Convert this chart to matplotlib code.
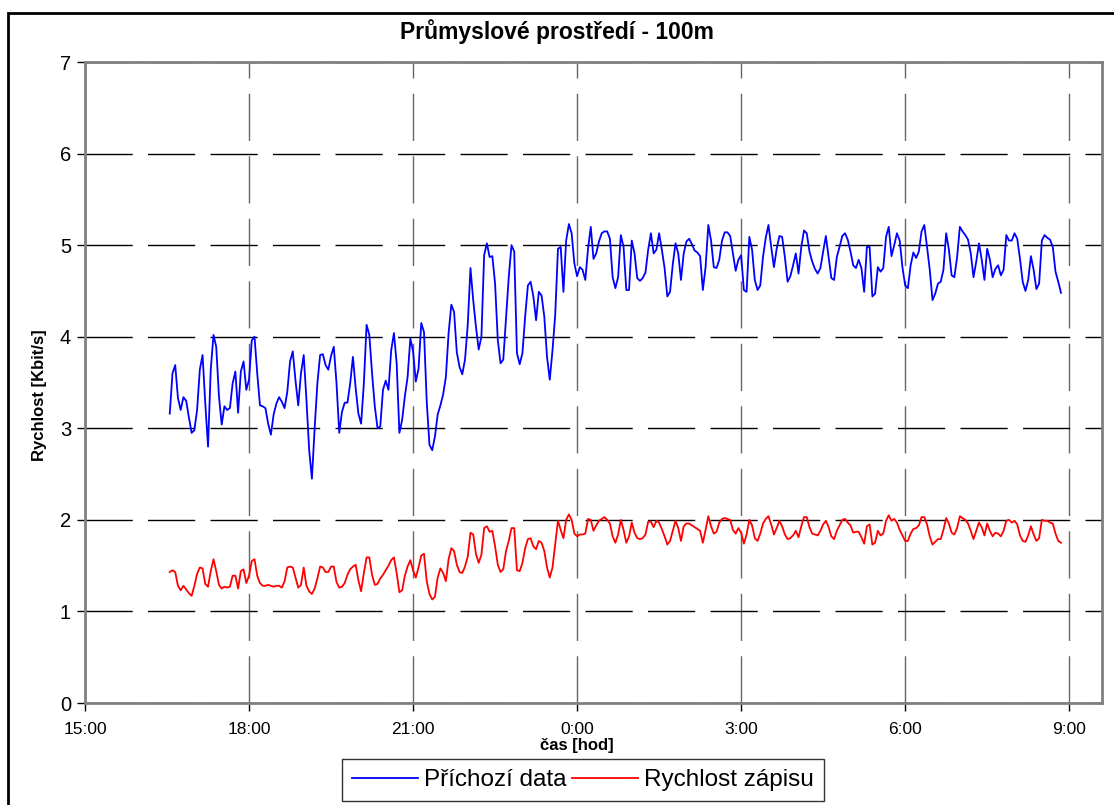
import matplotlib
matplotlib.use("Agg")
import matplotlib.pyplot as plt
import numpy as np
from matplotlib.patches import Rectangle

# ---- data ----
# samples every 3 minutes, first sample at 16:33 (hours counted from midnight of day 1)
start_hour = 16.55
step_hour = 0.05

incoming = [
    # 16:33 - 18:48
    3.16, 3.60, 3.69, 3.33, 3.20, 3.34, 3.30, 3.12, 2.95, 2.98, 3.20, 3.64, 3.80, 3.27, 2.80, 3.64,
    4.02, 3.89, 3.35, 3.04, 3.24, 3.20, 3.22, 3.49, 3.62, 3.17, 3.62, 3.73, 3.42, 3.53, 3.96, 4.00,
    3.60, 3.25, 3.24, 3.22, 3.05, 2.93, 3.15, 3.27, 3.34, 3.29, 3.22, 3.40, 3.73, 3.84,
    # 18:51 - 21:12
    3.52, 3.25, 3.60, 3.80, 3.31, 2.76, 2.45, 3.00, 3.49, 3.80, 3.81, 3.69, 3.64, 3.79, 3.89, 3.49,
    2.95, 3.18, 3.28, 3.28, 3.49, 3.78, 3.44, 3.16, 3.05, 3.49, 4.13, 4.02, 3.60, 3.24, 3.00, 3.02,
    3.42, 3.52, 3.42, 3.85, 4.04, 3.71, 2.95, 3.09, 3.35, 3.56, 3.98, 3.84, 3.51, 3.65, 4.15, 4.05,
    # 21:15 - 23:33
    3.29, 2.82, 2.76, 2.91, 3.15, 3.25, 3.37, 3.56, 4.04, 4.35, 4.27, 3.83, 3.67, 3.59, 3.75, 4.13,
    4.75, 4.40, 4.11, 3.86, 4.00, 4.89, 5.02, 4.87, 4.88, 4.58, 3.96, 3.71, 3.75, 4.20, 4.65, 5.00,
    4.93, 3.82, 3.70, 3.82, 4.22, 4.56, 4.60, 4.44, 4.18, 4.49, 4.45, 4.22, 3.78, 3.53, 3.85,
    # 23:36 - 1:57
    4.24, 4.96, 4.98, 4.49, 5.05, 5.23, 5.13, 4.80, 4.66, 4.76, 4.73, 4.62, 4.96, 5.20, 4.85, 4.91,
    5.04, 5.13, 5.15, 5.15, 5.07, 4.65, 4.53, 4.65, 5.11, 4.98, 4.51, 4.51, 5.05, 4.91, 4.64, 4.61,
    4.64, 4.70, 4.95, 5.13, 4.91, 4.95, 5.13, 4.95, 4.75, 4.44, 4.49, 4.79, 5.02, 4.91, 4.62, 4.91,
    # 2:00 - 4:21
    5.04, 5.07, 5.01, 4.94, 4.92, 4.88, 4.51, 4.76, 5.22, 5.05, 4.76, 4.75, 4.84, 5.05, 5.14, 5.14,
    5.10, 4.91, 4.72, 4.84, 4.89, 4.51, 4.49, 5.09, 4.95, 4.62, 4.51, 4.56, 4.87, 5.08, 5.22, 4.98,
    4.76, 4.96, 5.10, 5.09, 4.87, 4.60, 4.66, 4.78, 4.91, 4.69, 4.98, 5.16, 5.13, 4.93, 4.82, 4.74,
    # 4:24 - 6:45
    4.69, 4.75, 4.93, 5.10, 4.87, 4.64, 4.62, 4.87, 4.98, 5.10, 5.13, 5.06, 4.93, 4.78, 4.75, 4.84,
    4.75, 4.49, 4.98, 4.98, 4.44, 4.47, 4.76, 4.71, 4.75, 5.09, 5.20, 4.88, 5.00, 5.13, 5.05, 4.76,
    4.56, 4.53, 4.78, 4.92, 4.86, 4.93, 5.15, 5.22, 4.98, 4.73, 4.40, 4.47, 4.58, 4.60, 4.73, 5.13,
    # 6:48 - 8:51
    4.95, 4.67, 4.65, 4.87, 5.20, 5.15, 5.11, 5.06, 4.91, 4.65, 4.82, 5.02, 4.84, 4.62, 4.96, 4.84,
    4.65, 4.74, 4.78, 4.67, 4.73, 5.11, 5.05, 5.05, 5.13, 5.07, 4.85, 4.60, 4.50, 4.62, 4.88, 4.73,
    4.52, 4.58, 5.05, 5.11, 5.08, 5.06, 4.98, 4.71, 4.60, 4.48,
]

write_rate = [
    # 16:33 - 18:48
    1.43, 1.45, 1.43, 1.28, 1.23, 1.28, 1.24, 1.20, 1.17, 1.28, 1.41, 1.48, 1.47, 1.30, 1.27, 1.44,
    1.57, 1.44, 1.29, 1.25, 1.27, 1.26, 1.27, 1.39, 1.39, 1.25, 1.44, 1.46, 1.31, 1.39, 1.55, 1.57,
    1.39, 1.31, 1.28, 1.28, 1.29, 1.28, 1.27, 1.28, 1.28, 1.26, 1.33, 1.48, 1.49, 1.48,
    # 18:51 - 21:12
    1.37, 1.26, 1.29, 1.48, 1.28, 1.22, 1.19, 1.25, 1.36, 1.49, 1.48, 1.43, 1.43, 1.49, 1.49, 1.32,
    1.26, 1.27, 1.31, 1.40, 1.46, 1.49, 1.51, 1.34, 1.22, 1.42, 1.59, 1.59, 1.40, 1.29, 1.30, 1.36,
    1.40, 1.45, 1.50, 1.56, 1.59, 1.42, 1.21, 1.23, 1.39, 1.49, 1.56, 1.45, 1.37, 1.48, 1.61, 1.63,
    # 21:15 - 23:33
    1.33, 1.19, 1.13, 1.16, 1.37, 1.47, 1.42, 1.33, 1.57, 1.69, 1.66, 1.51, 1.43, 1.42, 1.49, 1.60,
    1.86, 1.84, 1.63, 1.53, 1.62, 1.91, 1.93, 1.87, 1.88, 1.71, 1.51, 1.43, 1.46, 1.66, 1.77, 1.91,
    1.91, 1.45, 1.44, 1.53, 1.69, 1.79, 1.80, 1.71, 1.68, 1.77, 1.75, 1.66, 1.48, 1.37, 1.48,
    # 23:36 - 1:57
    1.73, 1.99, 1.89, 1.80, 2.00, 2.06, 2.00, 1.85, 1.82, 1.84, 1.84, 1.85, 2.01, 2.00, 1.88, 1.94,
    1.99, 2.01, 2.03, 2.00, 1.96, 1.82, 1.75, 1.84, 2.00, 1.89, 1.75, 1.82, 1.97, 1.86, 1.80, 1.79,
    1.80, 1.84, 1.98, 1.98, 1.92, 1.99, 1.97, 1.90, 1.82, 1.73, 1.77, 1.88, 1.99, 1.91, 1.77, 1.93,
    # 2:00 - 4:21
    1.96, 1.96, 1.94, 1.92, 1.90, 1.88, 1.75, 1.89, 2.04, 1.93, 1.85, 1.87, 1.97, 2.01, 2.02, 2.01,
    2.00, 1.89, 1.85, 1.91, 1.86, 1.74, 1.84, 2.00, 1.94, 1.80, 1.77, 1.85, 1.96, 2.01, 2.04, 1.95,
    1.84, 1.91, 1.99, 1.93, 1.84, 1.79, 1.80, 1.83, 1.88, 1.81, 1.93, 2.03, 2.03, 1.92, 1.85, 1.84,
    # 4:24 - 6:45
    1.83, 1.88, 1.95, 1.99, 1.92, 1.82, 1.79, 1.88, 1.94, 2.00, 2.01, 1.97, 1.94, 1.86, 1.87, 1.87,
    1.81, 1.74, 1.93, 1.95, 1.73, 1.75, 1.88, 1.83, 1.85, 1.99, 2.05, 1.99, 2.01, 1.97, 1.89, 1.83,
    1.77, 1.77, 1.85, 1.90, 1.91, 1.94, 2.03, 2.03, 1.95, 1.82, 1.73, 1.76, 1.79, 1.79, 1.89, 2.02,
    # 6:48 - 8:51
    1.96, 1.86, 1.84, 1.91, 2.04, 2.02, 2.00, 1.96, 1.88, 1.79, 1.88, 1.97, 1.92, 1.83, 1.96, 1.88,
    1.82, 1.86, 1.85, 1.82, 1.88, 1.99, 2.00, 1.97, 1.99, 1.95, 1.83, 1.77, 1.76, 1.83, 1.93, 1.84,
    1.77, 1.80, 2.00, 1.99, 1.99, 1.97, 1.96, 1.85, 1.77, 1.75,
]

series_labels = ["Příchozí data", "Rychlost zápisu"]
title = "Průmyslové prostředí - 100m"
x_label = "čas [hod]"
y_label = "Rychlost [Kbit/s]"
hour_ticks = [15, 18, 21, 24, 27, 30, 33]

t_in = start_hour + step_hour * np.arange(len(incoming))
t_wr = start_hour + step_hour * np.arange(len(write_rate))

# ---- figure ----
plt.rcParams['font.family'] = ['Liberation Sans', 'DejaVu Sans']
fig = plt.figure(figsize=(11.14, 8.05), dpi=100)
ax = fig.add_axes([85 / 1114, 1 - 703 / 805, (1102 - 85) / 1114, (703 - 62) / 805])

ax.plot(t_in, incoming, color='#0000FF', lw=1.3, label=series_labels[0])
ax.plot(t_wr, write_rate, color='#FF0000', lw=1.3, label=series_labels[1])

ax.set_xlim(15, 33.6)
ax.set_ylim(0, 7)
ax.set_xticks(hour_ticks)
ax.set_xticklabels([f"{h % 24}:00" for h in hour_ticks], fontsize=12.5)
ax.set_yticks(range(8))
ax.set_yticklabels([str(v) for v in range(8)], fontsize=14.5)
ax.tick_params(axis='both', direction='out', length=6, width=1, color='black')
ax.tick_params(axis='x', pad=8)
ax.tick_params(axis='y', pad=4)

# Excel-like long dash grid
ax.grid(True, axis='y', color='black', lw=1.0, linestyle=(0, (34, 11)))
ax.grid(True, axis='x', color='#666666', lw=1.0, linestyle=(0, (34, 11)))
ax.set_axisbelow(True)
for s in ax.spines.values():
    s.set_color('#808080')
    s.set_linewidth(2)

fig.text(0.5, 1 - 32 / 805, title, ha='center', va='center', fontsize=16.5, fontweight='bold')
fig.text(577 / 1114, 1 - 745 / 805, x_label, ha='center', va='center', fontsize=12, fontweight='bold')
fig.text(40 / 1114, 1 - 395 / 805, y_label, ha='center', va='center', rotation=90,
         fontsize=12, fontweight='bold')

leg = fig.legend(loc='center', bbox_to_anchor=(583 / 1114, 1 - 780 / 805), ncol=2,
                 fontsize=17.5, frameon=True, fancybox=False, handlelength=2.7,
                 handletextpad=0.25, columnspacing=0.25, borderpad=0.4)
leg.get_frame().set_edgecolor('black')
leg.get_frame().set_linewidth(1)

# outer chart border
fig.patches.append(Rectangle((8 / 1114, -0.01), 1.1, 1 - 13 / 805 + 0.01,
                             transform=fig.transFigure, fill=False, edgecolor='black', lw=2))

fig.savefig("out.png", dpi=100)
